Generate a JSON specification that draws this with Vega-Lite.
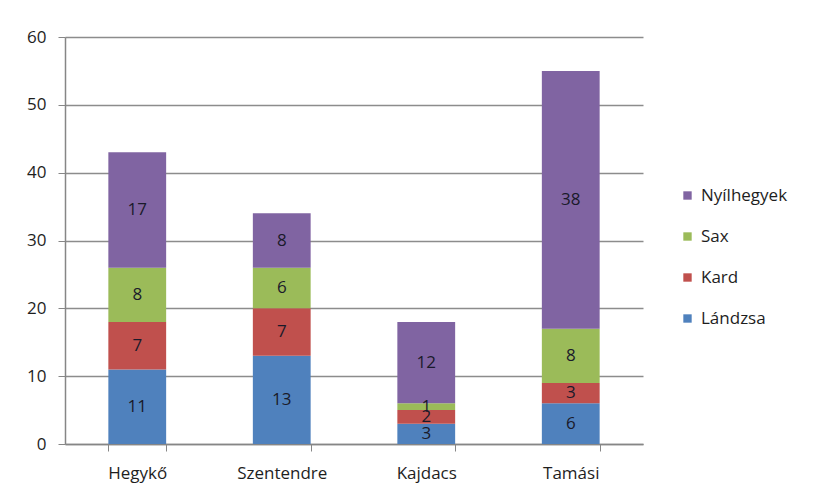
{
  "$schema": "https://vega.github.io/schema/vega-lite/v6.json",
  "width": 578,
  "height": 407,
  "autosize": "none",
  "padding": {"left": 65, "top": 37, "right": 173, "bottom": 53},
  "background": "white",
  "config": {
    "view": {"stroke": null},
    "font": "Open Sans",
    "axis": {"labelFont": "Open Sans", "labelFontSize": 17, "labelColor": "#1e1e1e", "domainColor": "#868686", "tickColor": "#868686", "gridColor": "#8c8c8c", "tickSize": 7, "title": null}
  },
  "data": {"values": [
    {"site": "Hegykő", "type": "Lándzsa", "n": 11, "o": 1},
    {"site": "Hegykő", "type": "Kard", "n": 7, "o": 2},
    {"site": "Hegykő", "type": "Sax", "n": 8, "o": 3},
    {"site": "Hegykő", "type": "Nyílhegyek", "n": 17, "o": 4},
    {"site": "Szentendre", "type": "Lándzsa", "n": 13, "o": 1},
    {"site": "Szentendre", "type": "Kard", "n": 7, "o": 2},
    {"site": "Szentendre", "type": "Sax", "n": 6, "o": 3},
    {"site": "Szentendre", "type": "Nyílhegyek", "n": 8, "o": 4},
    {"site": "Kajdacs", "type": "Lándzsa", "n": 3, "o": 1},
    {"site": "Kajdacs", "type": "Kard", "n": 2, "o": 2},
    {"site": "Kajdacs", "type": "Sax", "n": 1, "o": 3},
    {"site": "Kajdacs", "type": "Nyílhegyek", "n": 12, "o": 4},
    {"site": "Tamási", "type": "Lándzsa", "n": 6, "o": 1},
    {"site": "Tamási", "type": "Kard", "n": 3, "o": 2},
    {"site": "Tamási", "type": "Sax", "n": 8, "o": 3},
    {"site": "Tamási", "type": "Nyílhegyek", "n": 38, "o": 4}
  ]},
  "encoding": {
    "x": {"field": "site", "type": "nominal", "sort": null,
      "scale": {"paddingInner": 0.6, "paddingOuter": 0.3},
      "axis": {"labelAngle": 0, "tickBand": "extent", "labelPadding": 14, "domainWidth": 1.5}},
    "y": {"field": "n", "type": "quantitative", "stack": "zero",
      "scale": {"domain": [0, 60], "nice": false},
      "axis": {"values": [0, 10, 20, 30, 40, 50, 60], "labelPadding": 12, "gridWidth": 1.5, "domainWidth": 1.5}},
    "order": {"field": "o", "type": "quantitative"}
  },
  "layer": [
    {"mark": {"type": "bar"},
     "encoding": {
       "color": {"field": "type", "type": "nominal",
         "scale": {"domain": ["Nyílhegyek", "Sax", "Kard", "Lándzsa"], "range": ["#8064A2", "#9BBB59", "#C0504D", "#4F81BD"]},
         "legend": {"title": null, "orient": "none", "legendX": 614, "legendY": 150, "symbolType": "square", "symbolSize": 70, "symbolStrokeWidth": 0, "labelFont": "Open Sans", "labelFontSize": 17, "labelColor": "#1e1e1e", "labelOffset": 5, "rowPadding": 23, "padding": 0}}
     }},
    {"mark": {"type": "text", "fontSize": 17, "color": "#1a1a2a", "baseline": "middle"},
     "encoding": {
       "y": {"field": "n", "type": "quantitative", "stack": "zero", "bandPosition": 0.5},
       "text": {"field": "n", "type": "quantitative"}
     }}
  ]
}
